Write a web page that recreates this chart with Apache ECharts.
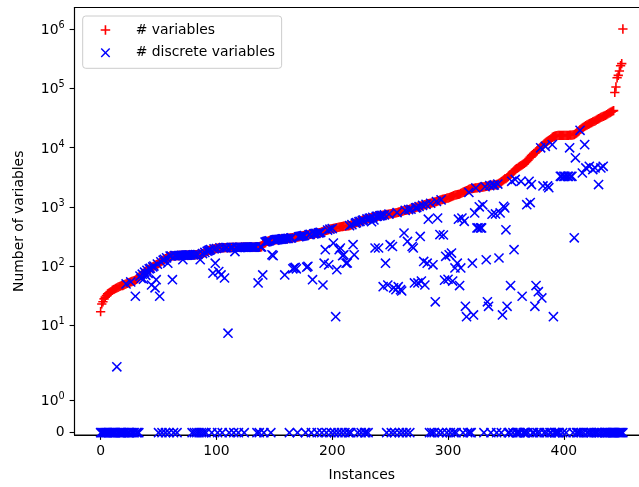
<!DOCTYPE html>
<html>
<head>
<meta charset="utf-8">
<script src="https://cdn.jsdelivr.net/npm/echarts@6/dist/echarts.min.js"></script>
<style>
html,body{margin:0;padding:0;background:#fff;}
#chart{width:639px;height:487px;}
</style>
</head>
<body>
<div id="chart"></div>
<script>
// ---- data ----
const numVariables = [
17,23,25,28,30,32,34,35,36,37,
39,40,41,42,43,44,45,46,47,47,
48,49,50,51,52,53,54,55,56,57,
58,60,62,65,68,70,73,76,79,82,
85,87,90,92,95,97,100,103,106,108,
110,114,118,122,126,130,134,138,141,145,
148,148,149,149,150,150,150,151,151,151,
152,152,152,153,153,153,154,154,154,155,
155,155,156,156,157,157,158,160,163,166,
170,174,178,182,186,190,192,194,196,197,
198,200,202,204,204,204,205,205,205,205,
205,206,206,206,206,206,207,207,207,207,
207,207,208,208,208,208,208,208,208,209,
209,209,209,209,210,210,210,210,210,212,
240,250,255,258,262,265,268,270,272,274,
275,277,279,280,282,284,285,287,288,290,
290,292,294,296,298,300,302,304,306,308,
310,313,316,319,322,325,328,331,334,337,
339,342,345,348,351,354,357,360,363,367,
370,376,382,388,394,400,406,413,420,426,
430,434,438,442,446,450,454,458,462,466,
470,472,474,476,478,480,490,500,510,520,
530,540,550,560,570,580,590,600,608,616,
624,632,640,648,656,664,672,680,688,694,
700,706,712,718,724,730,736,742,748,754,
760,766,772,778,784,790,800,810,820,830,
840,850,860,870,880,890,900,910,920,930,
950,962,975,988,1000,1013,1026,1040,1055,1070,
1085,1100,1115,1130,1140,1150,1165,1180,1195,1210,
1230,1250,1270,1290,1310,1330,1350,1365,1380,1400,
1410,1430,1460,1490,1520,1550,1570,1590,1600,1620,
1640,1680,1720,1760,1800,1840,1880,1920,1960,2000,
2020,2035,2050,2065,2080,2095,2110,2125,2140,2150,
2160,2175,2190,2210,2230,2250,2270,2290,2310,2330,
2340,2350,2380,2420,2480,2560,2650,2750,2850,2950,
3000,3120,3250,3380,3500,3650,3850,4050,4250,4400,
4500,4650,4800,4950,5100,5250,5400,5600,5800,6100,
6500,6900,7300,7600,7900,8000,8400,8800,9300,9800,
10200,10600,11000,11500,12000,12400,12800,13200,13600,14100,
14800,15200,15500,15700,15900,16000,16000,16000,16000,16000,
16000,16000,16050,16100,16100,16150,16200,16250,16300,16500,
17000,17600,18300,19000,20000,20700,21400,22100,22800,23400,
24000,24600,25200,25800,26400,27000,27600,28200,29000,29800,
30600,31400,32200,33000,33500,34200,35000,36000,37000,38000,
39000,40000,41000,42000,85000,105000,150000,165000,195000,240000,
260000,1000000
];

const numDiscrete = [
0,0,0,0,0,0,0,0,0,0,
0,0,0,0,2,0,0,0,0,0,
0,0,50,0,0,0,54,0,0,0,
31,0,0,0,68,62,73,60,79,70,
85,75,90,92,48,97,100,43,59,108,
0,31,118,0,126,130,0,138,112,0,
148,148,59,0,150,150,0,151,151,151,
152,128,152,153,153,153,154,154,154,0,
155,0,156,0,157,0,128,0,163,0,
170,0,178,182,186,190,0,76,196,112,
198,0,81,204,71,0,205,63,205,205,
7.4,0,206,206,206,0,176,207,207,0,
207,207,208,208,0,208,208,208,208,209,
209,209,209,209,210,0,52,0,210,210,
71,0,255,258,262,265,268,0,155,150,
275,277,279,280,282,284,285,287,288,71,
290,292,294,0,298,300,90,93,95,90,
0,313,316,319,322,325,328,0,96,99,
339,342,0,59,351,354,357,0,363,367,
370,0,48,112,189,0,406,105,420,0,
430,245,0,14,87,0,189,202,0,150,
155,0,112,113,0,480,0,500,230,155,
530,540,0,560,570,0,590,600,0,0,
624,0,640,648,560,664,600,202,688,694,
202,706,712,718,45,730,112,0,48,754,
230,0,214,43,0,40,800,45,0,40,
38,0,362,870,0,261,900,0,910,214,
202,52,962,975,52,1013,317,56,1055,120,
48,1100,112,620,0,1150,0,105,0,25,
1230,648,0,340,1310,0,335,58,146,0,
60,155,0,166,56,0,93,0,112,620,
47,93,648,0,570,21,14,0,1750,0,
0,112,15,790,2080,440,440,1000,440,440,
1080,0,2190,128,25,21,2270,0,750,2310,
2340,760,0,2420,137,790,0,15,1020,960,
410,21,0,0,47,2690,0,189,2900,0,
0,0,0,2690,31,0,0,0,1085,0,
2690,1180,2370,0,0,21,47,0,37,0,
9900,29,2250,0,10500,0,2250,2100,0,0,
11200,14,0,0,0,0,0,3270,3270,0,
3270,3270,0,3270,3270,9900,3270,3270,0,300,
6700,0,0,0,19500,0,3720,0,11200,4530,
0,0,4820,0,0,4250,0,4530,0,0,
2370,0,4530,0,4820,0,0,0,0,0,
0,0,0,0,0,0,0,0,0,0,
0,0
];

const xTickValues = [0, 100, 200, 300, 400];
const yTickValues = [0, 1, 10, 100, 1000, 10000, 100000, 1000000];
const yTickExponents = [null, '0', '1', '2', '3', '4', '5', '6'];

// ---- symlog transform (matplotlib defaults: linthresh=2, linscale=1, base 10) ----
const LT = 2, LS = 1 / (1 - 1 / 10);
function symlog(v) { return v <= LT ? v * LS : LT * (LS + Math.log10(v / LT)); }

const yTickPos = yTickValues.map(symlog);
const FONT = 'DejaVu Sans';

const plusPath = 'path://M41.5,0H58.5V41.5H100V58.5H58.5V100H41.5V58.5H0V41.5H41.5Z';
const crossPath = 'path://M12,0L56,44L100,0L112,12L68,56L112,100L100,112L56,68L12,112L0,100L44,56L0,12Z';

const redData = numVariables.map((v, i) => [i, symlog(v)]);
const blueData = numDiscrete.map((v, i) => [i, symlog(v)]);

const chart = echarts.init(document.getElementById('chart'), null, {renderer: 'canvas'});
chart.setOption({
  animation: false,
  backgroundColor: '#ffffff',
  grid: {
    left: 74.5, top: 7.5, width: 574.5, height: 427.5,
    outerBoundsMode: 'none', containLabel: false,
    show: true, borderColor: '#000', borderWidth: 1.1, backgroundColor: 'transparent'
  },
  legend: {
    left: 82.7, top: 16,
    orient: 'vertical',
    padding: [6, 6.7, 7.6, 18],
    itemGap: 6.7,
    itemWidth: 9.5, itemHeight: 9.5,
    backgroundColor: 'rgba(255,255,255,0.8)',
    borderColor: '#cccccc', borderWidth: 1, borderRadius: 3,
    textStyle: {fontFamily: FONT, fontSize: 13.9, color: '#000', lineHeight: 16, padding: [0, 0, 0, 20.5]},
    data: [
      {name: '# variables', icon: plusPath},
      {name: '# discrete variables', icon: crossPath}
    ]
  },
  xAxis: {
    type: 'value', min: -22.55, max: 473.55,
    name: 'Instances', nameLocation: 'middle', nameGap: 33,
    nameTextStyle: {fontFamily: FONT, fontSize: 13.9, color: '#000'},
    axisLine: {show: true, onZero: false, lineStyle: {color: '#000', width: 1.1}},
    axisTick: {show: true, inside: false, length: 4.9, lineStyle: {color: '#000', width: 1.1}, customValues: xTickValues},
    axisLabel: {customValues: xTickValues, fontFamily: FONT, fontSize: 13.9, color: '#000', margin: 9.8},
    splitLine: {show: false}
  },
  yAxis: {
    type: 'value', min: -0.078, max: 14.345,
    name: 'Number of variables', nameLocation: 'middle', nameGap: 48, nameRotate: 90,
    nameTextStyle: {fontFamily: FONT, fontSize: 13.9, color: '#000'},
    axisLine: {show: true, onZero: false, lineStyle: {color: '#000', width: 1.1}},
    axisTick: {show: true, inside: false, length: 4.9, lineStyle: {color: '#000', width: 1.1}, customValues: yTickPos},
    axisLabel: {
      customValues: yTickPos, margin: 9.8,
      formatter: function (val) {
        let k = 0, best = Infinity;
        for (let i = 0; i < yTickPos.length; i++) {
          const d = Math.abs(yTickPos[i] - val);
          if (d < best) { best = d; k = i; }
        }
        if (yTickExponents[k] === null) return '{z|0}';
        return '{b|10}{s|' + yTickExponents[k] + '}';
      },
      rich: {
        z: {fontFamily: FONT, fontSize: 13.9, color: '#000'},
        b: {fontFamily: FONT, fontSize: 13.9, color: '#000', lineHeight: 17, verticalAlign: 'bottom'},
        s: {fontFamily: FONT, fontSize: 9.7, color: '#000', lineHeight: 10, verticalAlign: 'top'}
      }
    },
    splitLine: {show: false}
  },
  series: [
    {
      name: '# variables', type: 'scatter', data: redData,
      symbol: plusPath, symbolSize: 9.3,
      itemStyle: {color: '#ff0000', opacity: 1},
      emphasis: {disabled: true}
    },
    {
      name: '# discrete variables', type: 'scatter', data: blueData,
      symbol: crossPath, symbolSize: 10.2,
      itemStyle: {color: '#0000ff', opacity: 1},
      emphasis: {disabled: true}
    }
  ]
});
</script>
</body>
</html>
